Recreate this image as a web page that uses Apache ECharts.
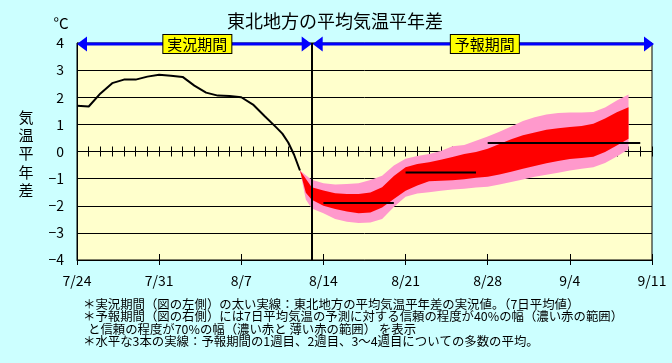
<!DOCTYPE html>
<html><head><meta charset="utf-8">
<script src="https://cdn.jsdelivr.net/npm/echarts@6.0.0/dist/echarts.min.js"></script>
<style>html,body{margin:0;padding:0;background:#CCFFFF}#c{width:672px;height:363px}</style>
</head><body><div id="c"></div>
<script>
// ---- data ----
const xTickLabels = ['7/24','7/31','8/7','8/14','8/21','8/28','9/4','9/11'];
const splitDay = 20;        // 8/13 : boundary of observed / forecast period
const lastDay = 49;         // 9/11
const obsDays   = [0,1,2,3,4,5,6,7,8,9,10,11,12,13,14,15,16,17,17.5,18,18.5,19];
const obsValues = [1.69,1.66,2.14,2.52,2.65,2.65,2.76,2.83,2.79,2.75,2.43,2.17,2.06,2.05,2.00,1.73,1.30,0.88,0.66,0.33,-0.12,-0.70];
const bandDays  = [19,19.5,20,21,22,23,24,25,26,27,28,29,30,31,32,33,34,35,36,37,38,39,40,41,42,43,44,45,46,47];
const pinkTop   = [-0.70,-0.88,-1.04,-1.17,-1.22,-1.20,-1.17,-1.05,-0.89,-0.52,-0.27,-0.17,-0.09,0.02,0.19,0.24,0.40,0.55,0.73,0.92,1.12,1.26,1.36,1.42,1.44,1.44,1.46,1.62,1.88,2.10];
const redTop    = [-0.70,-1.00,-1.32,-1.44,-1.54,-1.57,-1.57,-1.51,-1.32,-0.90,-0.58,-0.46,-0.40,-0.30,-0.20,-0.09,-0.02,0.10,0.28,0.45,0.60,0.70,0.80,0.86,0.90,0.94,1.02,1.22,1.45,1.63];
const redBot    = [-0.70,-1.52,-1.78,-2.00,-2.12,-2.21,-2.28,-2.25,-2.06,-1.75,-1.45,-1.25,-1.10,-1.08,-1.06,-1.02,-0.97,-0.93,-0.85,-0.75,-0.64,-0.53,-0.43,-0.35,-0.28,-0.24,-0.19,-0.02,0.22,0.47];
const pinkBot   = [-0.70,-1.77,-2.10,-2.28,-2.49,-2.59,-2.64,-2.62,-2.49,-2.05,-1.67,-1.55,-1.50,-1.45,-1.40,-1.37,-1.33,-1.30,-1.22,-1.12,-1.03,-0.93,-0.86,-0.78,-0.70,-0.64,-0.58,-0.42,-0.18,0.08];
const weekStart = [21, 28, 35];
const weekEnd   = [27, 34, 48];
const weekMean  = [-1.90, -0.77, 0.31];
const periodLabels = ['実況期間', '予報期間'];
const notes = [
  '＊実況期間（図の左側）の太い実線：東北地方の平均気温平年差の実況値。（7日平均値）',
  '＊予報期間（図の右側）には7日平均気温の予測に対する信頼の程度が40%の幅（濃い赤の範囲）',
  'と信頼の程度が70%の幅（濃い赤と 薄い赤の範囲） を表示',
  '＊水平な3本の実線：予報期間の1週目、2週目、3～4週目についての多数の平均。'
];

// ---- chart ----
const FF = '"Noto Sans CJK JP", "Noto Sans", sans-serif';
const chart = echarts.init(document.getElementById('c'), null, {renderer: 'canvas'});
const pair = (xs, ys) => xs.map((x, i) => [x, ys[i]]);

const hiddenX = (extra) => Object.assign({
  type: 'value', min: 0, max: lastDay, interval: 1,
  axisLabel: {show: false}, splitLine: {show: false},
  axisLine: {show: false, onZero: true, onZeroAxisIndex: 0},
  axisTick: {show: true, length: 5, lineStyle: {color: '#000', width: 1}}
}, extra);

// band layers: [upper edge, lower edge, colour]
const bandLayers = [
  [pinkTop, pinkBot, '#FF99CC'],
  [redTop, redBot, '#FF0000']
];

const series = [{
  type: 'custom', silent: true, z: 3, clip: true,
  data: bandLayers.map((l, i) => [i]),
  encode: {x: -1, y: -1},
  renderItem: (params, api) => {
    const [up, lo, color] = bandLayers[params.dataIndex];
    const pts = [];
    bandDays.forEach((d, i) => pts.push(api.coord([d, up[i]])));
    for (let i = bandDays.length - 1; i >= 0; i--) pts.push(api.coord([bandDays[i], lo[i]]));
    return {type: 'polygon', shape: {points: pts}, style: {fill: color, stroke: null}};
  }
}];
weekMean.forEach((m, i) => {
  series.push({
    type: 'line', data: [[weekStart[i], m], [weekEnd[i], m]],
    symbol: 'none', silent: true, z: 5,
    lineStyle: {color: '#000', width: 2}
  });
});
series.push({
  name: 'obs', type: 'line', data: pair(obsDays, obsValues),
  symbol: 'none', silent: true, z: 6,
  lineStyle: {color: '#000', width: 2},
  markLine: {
    silent: true, symbol: 'none', z: 7,
    label: {show: false},
    lineStyle: {color: '#000', width: 2, type: 'solid'},
    data: [{xAxis: splitDay}]
  }
});

chart.setOption({
  backgroundColor: '#CCFFFF',
  animation: false,
  grid: {left: 77, right: 20, top: 43, bottom: 103, show: true,
         backgroundColor: '#FFFFCC', borderColor: '#000', borderWidth: 1},
  xAxis: [
    {type: 'value', min: 0, max: lastDay, interval: 7,
     axisLine: {show: true, onZero: false, lineStyle: {color: '#000', width: 1}},
     axisTick: {show: true, length: 5, lineStyle: {color: '#000'}},
     splitLine: {show: false},
     axisLabel: {margin: 14, color: '#000', fontSize: 14, fontFamily: FF,
                 formatter: v => xTickLabels[Math.round(v / 7)]}},
    {type: 'value', min: 0, max: lastDay, interval: 7, position: 'bottom',
     axisLine: {show: false, onZero: false},
     axisTick: {show: true, inside: true, length: 6, lineStyle: {color: '#000'}},
     axisLabel: {show: false}, splitLine: {show: false}},
    hiddenX({}),
    hiddenX({axisTick: {show: true, inside: true, length: 5, lineStyle: {color: '#000', width: 1}}})
  ],
  yAxis: {type: 'value', min: -4, max: 4, interval: 1,
          axisLine: {show: true, onZero: false, lineStyle: {color: '#000'}},
          axisTick: {show: false},
          splitLine: {show: true, lineStyle: {color: '#000', width: 1}},
          axisLabel: {margin: 13, color: '#000', fontSize: 14, fontFamily: FF,
                      formatter: v => v < 0 ? '−' + Math.abs(v) : String(v)}},
  series
});

// ---- annotations placed through the axes ----
const px = (d, v) => chart.convertToPixel({gridIndex: 0}, [d, v]);
const yA = px(0, 4)[1] + 1;
const x0 = px(0, 4)[0], xm = px(splitDay, 4)[0], xe = px(lastDay, 4)[0] + 2;
const BLUE = '#0000FF';
const aw = 10, ah = 7.5;
const tri = (tipX, dir) => ({type: 'polygon', z: 100, silent: true,
  shape: {points: [[tipX, yA], [tipX + dir * aw, yA - ah], [tipX + dir * aw, yA + ah]]},
  style: {fill: BLUE}});
const txt = (x, y, text, size, extra) => ({type: 'text', x, y, z: 100, silent: true,
  style: Object.assign({text, fontSize: size, fontFamily: FF, fill: '#000',
                        align: 'left', verticalAlign: 'middle'}, extra || {})});
const boxLabel = (cx, text) => ({type: 'text', x: cx, y: yA, z: 101, silent: true,
  style: {text, fontSize: 15, fontFamily: FF, fill: '#000', align: 'center', verticalAlign: 'middle',
          backgroundColor: '#FFFF00', borderColor: '#000', borderWidth: 1, padding: [1, 4], lineHeight: 16}});

const graphics = [
  {type: 'line', z: 99, silent: true, shape: {x1: x0 + 4, y1: yA, x2: xm - 4, y2: yA}, style: {stroke: BLUE, lineWidth: 3}},
  {type: 'line', z: 99, silent: true, shape: {x1: xm + 5, y1: yA, x2: xe - 4, y2: yA}, style: {stroke: BLUE, lineWidth: 3}},
  tri(x0, 1), tri(xm, -1), tri(xm + 1, 1), tri(xe, -1),
  boxLabel((x0 + xm) / 2 + 3, periodLabels[0]),
  boxLabel((xm + xe) / 2 + 2, periodLabels[1]),
  txt(335, 21.5, '東北地方の平均気温平年差', 18, {align: 'center'}),
  txt(61, 23.5, '°C', 15, {align: 'center'}),
  txt(26, 153.5, '気\n温\n平\n年\n差', 15, {align: 'center', lineHeight: 18.3}),
  txt(83, 304, notes[0], 12.4),
  txt(83, 316.5, notes[1], 12.4),
  txt(88, 329, notes[2], 12.4),
  txt(83, 341.5, notes[3], 12.4)
];
chart.setOption({graphic: graphics});
</script></body></html>
